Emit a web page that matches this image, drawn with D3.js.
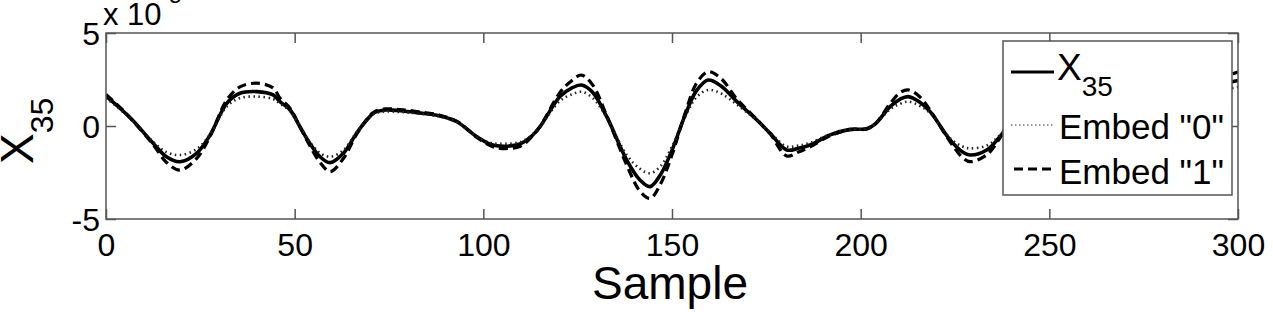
<!DOCTYPE html>
<html><head><meta charset="utf-8">
<script src="https://cdn.jsdelivr.net/npm/d3@7"></script>
<style>
html,body{margin:0;padding:0;background:#fff;}
text{font-family:"Liberation Sans",Arial,sans-serif;fill:#000;}
</style></head>
<body><svg id="chart" width="1273" height="312"></svg>
<script>
// sample positions (x) and values (in units of 1e-3)
const samples = [0,4,7,12.5,16,19.6,24,27.6,32,35.5,40,44.3,46.1,48.8,51.4,54,56.7,59.4,62.9,66.4,69.1,71,74,78,82.3,88.5,93,98.2,101.8,104.4,109.7,112.5,115,120.3,123.5,126,129,132.7,138,141.5,144.2,147,150,153.5,156.5,159.6,163,167.2,172.5,176,180.4,183.5,186.6,191.9,197.2,201.6,203.8,207.8,210.5,212.6,215.5,218.4,223.7,227,229,233.4,236.9,242,247,253,260,267,274,282,290,296,300];
const x35 = [1.6,0.9,0.32,-0.93,-1.65,-1.92,-1.47,-0.48,1.22,1.76,1.85,1.67,1.31,0.86,-0.04,-0.93,-1.65,-1.97,-1.47,-0.39,0.32,0.7,0.86,0.82,0.72,0.54,0.23,-0.57,-0.98,-1.08,-0.97,-0.6,-0.04,1.58,2.05,2.2,1.8,0.5,-1.83,-2.9,-3.26,-2.6,-1.3,0.6,1.9,2.47,2.15,1.31,0.32,-0.39,-1.29,-1.2,-1.02,-0.48,-0.18,-0.15,0.1,1.04,1.45,1.58,1.3,0.77,-0.75,-1.4,-1.56,-1.29,-0.57,0.8,1.5,1.0,-0.6,-1.2,-0.4,0.6,1.4,2.2,2.45];
const embed0 = [1.5,0.85,0.3,-0.85,-1.4,-1.56,-1.25,-0.45,1.05,1.5,1.58,1.45,1.2,0.8,-0.04,-0.85,-1.45,-1.65,-1.3,-0.35,0.3,0.65,0.78,0.75,0.68,0.5,0.22,-0.55,-0.9,-0.95,-0.87,-0.55,-0.04,1.35,1.7,1.84,1.5,0.45,-1.55,-2.3,-2.54,-2.15,-1.1,0.5,1.55,1.94,1.75,1.15,0.3,-0.35,-1.1,-1.05,-0.9,-0.45,-0.18,-0.15,0.1,0.9,1.2,1.31,1.1,0.7,-0.65,-1.1,-1.2,-1.05,-0.5,0.7,1.3,0.9,-0.5,-1.0,-0.35,0.5,1.2,1.9,2.1];
const embed1 = [1.7,0.95,0.3,-1.0,-1.95,-2.37,-1.75,-0.55,1.4,2.1,2.3,2.05,1.5,0.95,-0.05,-1.05,-1.95,-2.45,-1.75,-0.45,0.35,0.75,0.92,0.88,0.78,0.58,0.25,-0.6,-1.05,-1.2,-1.1,-0.65,-0.04,1.8,2.45,2.74,2.2,0.55,-2.1,-3.5,-3.89,-3.1,-1.55,0.7,2.3,2.92,2.55,1.45,0.35,-0.42,-1.61,-1.4,-1.12,-0.52,-0.2,-0.16,0.1,1.2,1.8,1.94,1.6,0.85,-0.85,-1.7,-1.92,-1.55,-0.65,0.9,1.8,1.1,-0.7,-1.45,-0.45,0.7,1.7,2.6,2.9];
const xTicks = [0,50,100,150,200,250,300];
const yTicks = [-5,0,5];
const legendLabels = ["X", "Embed \"0\"", "Embed \"1\""];

const svg = d3.select("#chart");
const L=106, R=1238, T=33, B=219;
const x = d3.scaleLinear().domain([0,300]).range([L,R]);
const y = d3.scaleLinear().domain([-5,5]).range([B,T]);
const axisColor = "#555";
const fmt = d => String(d);

svg.append("defs").append("clipPath").attr("id","clip")
  .append("rect").attr("x",L).attr("y",T).attr("width",R-L).attr("height",B-T);

// axes
const gx = svg.append("g").attr("transform",`translate(0,${B})`)
  .call(d3.axisBottom(x).tickValues(xTicks).tickSize(-10).tickPadding(14).tickFormat(fmt));
const gxt = svg.append("g").attr("transform",`translate(0,${T})`)
  .call(d3.axisTop(x).tickValues(xTicks).tickSize(-10).tickFormat(""));
const gy = svg.append("g").attr("transform",`translate(${L},0)`)
  .call(d3.axisLeft(y).tickValues(yTicks).tickSize(-10).tickPadding(6).tickFormat(fmt));
const gyr = svg.append("g").attr("transform",`translate(${R},0)`)
  .call(d3.axisRight(y).tickValues(yTicks).tickSize(-10).tickFormat(""));
[gx,gxt,gy,gyr].forEach(g=>{
  g.select(".domain").remove();
  g.selectAll(".tick line").attr("stroke",axisColor).attr("stroke-width",1.5);
  g.selectAll(".tick text").attr("font-size",32).attr("fill","#000").attr("font-family","Liberation Sans, Arial, sans-serif");
});
gy.selectAll(".tick text").attr("dy","0.36em");

// data lines
const pts = vals => samples.map((s,i)=>[s,vals[i]]);
const line = d3.line().x(d=>x(d[0])).y(d=>y(d[1])).curve(d3.curveCatmullRom.alpha(0.5));
const plot = svg.append("g").attr("clip-path","url(#clip)");
plot.append("path").datum(pts(embed1)).attr("d",line).attr("fill","none")
  .attr("stroke","#000").attr("stroke-width",3.2).attr("stroke-dasharray","9,5");
plot.append("path").datum(pts(x35)).attr("d",line).attr("fill","none")
  .attr("stroke","#000").attr("stroke-width",3.6);
plot.append("path").datum(pts(embed0)).attr("d",line).attr("fill","none")
  .attr("stroke","#222").attr("stroke-width",2.6).attr("stroke-dasharray","1.5,3.5");

// box
svg.append("rect").attr("x",L).attr("y",T).attr("width",R-L).attr("height",B-T)
  .attr("fill","none").attr("stroke",axisColor).attr("stroke-width",1.5);

// exponent label
const ex = svg.append("text").attr("x",103).attr("y",25).attr("font-size",31);
ex.append("tspan").text("x 10");
ex.append("tspan").attr("font-size",22).attr("dy",-22).text("-3");

// axis labels
svg.append("text").attr("x",(L+R)/2-2).attr("y",299).attr("text-anchor","middle")
  .attr("font-size",46).text("Sample");
const yl = svg.append("text").attr("transform","translate(33,164) rotate(-90)").attr("font-size",46);
yl.append("tspan").text("X");
yl.append("tspan").attr("font-size",32).attr("dy",20).text("35");

// legend
const lg = svg.append("g");
lg.append("rect").attr("x",1003).attr("y",41).attr("width",229).attr("height",154)
  .attr("fill","#fff").attr("stroke",axisColor).attr("stroke-width",1.5);
const legendRows = [
  {y:72, dash:null, w:3.2, c:"#000", x1:1011, base:80},
  {y:125, dash:"1.5,2.5", w:1.5, c:"#777", x1:1011, base:139},
  {y:169, dash:"9,5", w:3, c:"#000", x1:1014, base:184}
];
legendRows.forEach((r,i)=>{
  lg.append("line").attr("x1",r.x1).attr("x2",1054).attr("y1",r.y).attr("y2",r.y)
    .attr("stroke",r.c).attr("stroke-width",r.w).attr("stroke-dasharray",r.dash);
  const t = lg.append("text").attr("x",i===0?1057:1059).attr("y",r.base).attr("font-size",i===0?37:35);
  t.append("tspan").text(legendLabels[i]);
  if(i===0) t.append("tspan").attr("font-size",28).attr("dy",16).text("35");
});
</script></body></html>
